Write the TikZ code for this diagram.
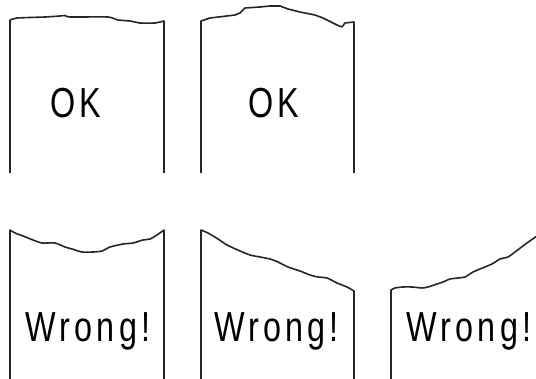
\documentclass[tikz,border=0pt]{standalone}
\usepackage{fontspec}
\newfontfamily\verdictfont[FakeStretch=0.77,LetterSpace=10]{Liberation Sans}
\tikzset{
  cutline/.style={line width=1.6pt,draw=black!85,line join=round,line cap=butt},
  verdict/.style={inner sep=0pt,anchor=base,text=black,font=\verdictfont\fontsize{42}{42}\selectfont}
}
\begin{document}
\begin{tikzpicture}[x=1pt,y=-1pt]
  \useasboundingbox (0,0) rectangle (536,379);
  % top row: cuts that pass
  \draw[cutline] (10,173) -- plot[smooth,tension=.3] coordinates {(10,20) (17,18) (45,17) (60,16) (65,15.5) (70,17) (108,17) (118,20) (130,21) (140,23) (155,23) (164,21)} -- (164,173);
  \draw[cutline] (201,173) -- (201,21) -- (210,18) -- (235,15) -- (240,13) -- (245,8) -- (260,7) -- (270,6) -- (280,6) -- (288,9) -- (300,12) -- (315,15) -- (323,18) -- (337,25) -- (342,27) -- (345,23) -- (354,22) -- (354,173);
  \node[verdict] (ok1) at (75.5,118) {OK};
  \node[verdict] (ok2) at (273.5,118) {OK};
  % bottom row: cuts that fail
  \draw[cutline] (10,379) -- plot[smooth,tension=.4] coordinates {(10,230) (15,233) (23,236) (33,240) (42,243) (55,243) (65,247) (72,249) (82,252) (93,252) (102,251) (110,247) (123,244) (133,243) (143,240) (150,239) (157,235) (164,230)} -- (164,379);
  \draw[cutline] (201,379) -- plot[smooth,tension=.4] coordinates {(201,230) (208,233) (218,239) (227,245) (240,251) (250,255) (260,257) (270,259) (278,262) (288,267) (300,271) (310,275) (318,277) (327,278) (337,283) (347,287) (354,291)} -- (354,379);
  \draw[cutline] (391,379) -- plot[smooth,tension=.4] coordinates {(391,290) (395,288) (403,287) (412,287) (422,288) (428,287) (437,284) (443,282) (450,279) (458,278) (465,277) (473,272) (480,269) (492,264) (500,259) (508,257) (515,252) (527,243) (537,236)};
  \node[verdict] (wrong1) at (88,342) {Wrong!};
  \node[verdict] (wrong2) at (276.5,342) {Wrong!};
  \node[verdict] (wrong3) at (469,342) {Wrong!};
\end{tikzpicture}
\end{document}
